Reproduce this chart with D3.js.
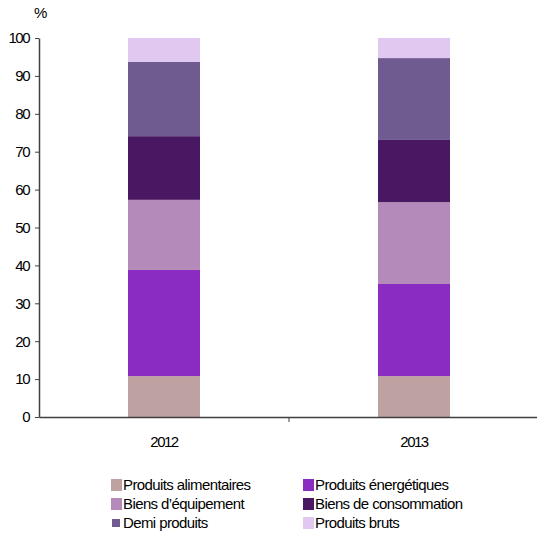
<!DOCTYPE html>
<html><head><meta charset="utf-8">
<script src="https://cdn.jsdelivr.net/npm/d3@7"></script>
<style>
html,body{margin:0;padding:0;background:#fff;}
svg{display:block;}
text{font-family:"Liberation Sans",Arial,sans-serif;fill:#000;}
</style></head><body>
<svg id="c" width="537" height="537"></svg>
<script>
const years = ["2012", "2013"];
const seriesNames = ["Produits alimentaires","Produits énergétiques","Biens d'équipement","Biens de consommation","Demi produits","Produits bruts"];
const legendLabels = ["Produits alimentaires","Produits énergétiques","Biens d’équipement","Biens de consommation","Demi produits","Produits bruts"];
const colors = ["#bea2a2","#8a2cc2","#b38ab9","#4a1862","#6f5b8f","#e0c8f0"];
const alimentaires = [10.8, 10.8];
const energetiques = [28.0, 24.3];
const equipement = [18.5, 21.6];
const consommation = [16.8, 16.4];
const demiProduits = [19.6, 21.6];
const bruts = [6.3, 5.3];
const yTicks = [0,10,20,30,40,50,60,70,80,90,100];

(function(){
const seriesValues = [alimentaires, energetiques, equipement, consommation, demiProduits, bruts];
const rows = years.map((yr,i)=>{const r={year:yr}; seriesNames.forEach((s,k)=>r[s]=seriesValues[k][i]); return r;});
const stack = d3.stack().keys(seriesNames)(rows);

const svg = d3.select("#c");
const mLeft = 39, mRight = 539, mTop = 38, mBottom = 417;
const x = d3.scaleBand().domain(years).range([mLeft, mRight]).paddingInner(0).paddingOuter(0);
const y = d3.scaleLinear().domain([0,100]).range([mBottom, mTop]);
const barW = 72;

svg.append("g").selectAll("g").data(stack).join("g")
  .attr("fill",(d,i)=>colors[i])
  .selectAll("rect").data(d=>d).join("rect")
  .attr("x",d=>x(d.data.year)+x.bandwidth()/2-barW/2)
  .attr("width",barW)
  .attr("y",d=>y(d[1]))
  .attr("height",d=>y(d[0])-y(d[1]));

const yAxis = svg.append("g").attr("transform",`translate(${mLeft},0)`)
  .call(d3.axisLeft(y).tickValues(yTicks).tickSize(4).tickSizeOuter(0).tickPadding(6));
yAxis.select(".domain").attr("stroke","#404040").attr("stroke-width",1.5);
yAxis.selectAll(".tick line").attr("stroke","#404040");
yAxis.selectAll("text").style("font-size","15px").style("letter-spacing","-1.5px").attr("fill","#000");

const xAxis = svg.append("g").attr("transform",`translate(0,${mBottom})`)
  .call(d3.axisBottom(x).tickSize(0).tickPadding(19));
xAxis.select(".domain").attr("stroke","#404040").attr("stroke-width",1.5);
xAxis.selectAll("text").style("font-size","15px").style("letter-spacing","-1.5px").attr("fill","#000");
svg.append("g").selectAll("line").data([years[0]]).join("line")
  .attr("x1",d=>x(d)+x.bandwidth()).attr("x2",d=>x(d)+x.bandwidth())
  .attr("y1",mBottom).attr("y2",mBottom+5).attr("stroke","#404040");

svg.append("text").attr("x",34).attr("y",18).style("font-size","15px").style("letter-spacing","-1px").text("%");

const legX = [111, 303];
const legY = [485, 504, 523];
const leg = svg.append("g").selectAll("g").data(legendLabels).join("g")
  .attr("transform",(d,i)=>`translate(${legX[i%2]},${legY[Math.floor(i/2)]})`);
leg.append("rect").attr("x",(d,i)=>i===4?1:0).attr("y",(d,i)=>i===4?-4:-6).attr("width",(d,i)=>i===4?8:11).attr("height",(d,i)=>i===4?8:12).attr("fill",(d,i)=>colors[i]);
leg.append("text").attr("x",12).attr("y",5).style("font-size","15px").style("letter-spacing","-0.6px").text(d=>d);
})();
</script>
</body></html>
